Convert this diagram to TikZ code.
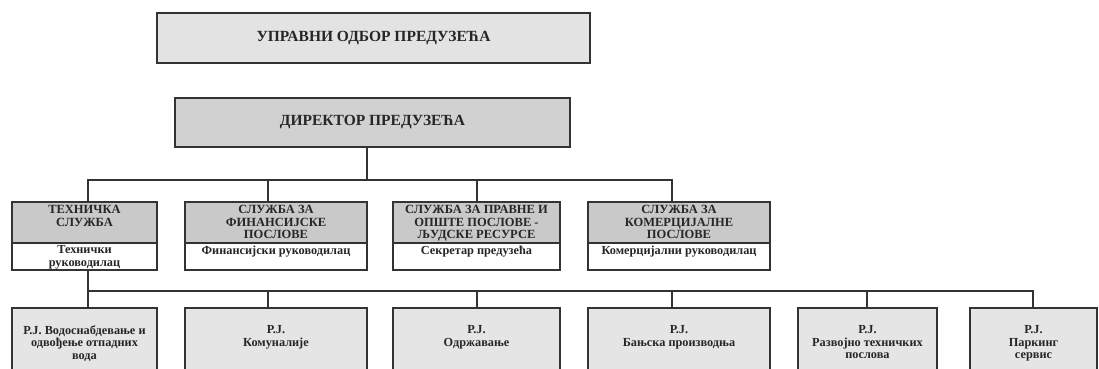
\documentclass[tikz,border=0pt]{standalone}
\usepackage{fontspec}
\setmainfont{Liberation Serif}
\begin{document}
\begin{tikzpicture}[x=1pt,y=-1pt,
  box/.style={draw=black!80, line width=1.8pt, rectangle, inner sep=0pt, outer sep=0pt, anchor=north west},
  ttl/.style={font=\fontsize{15.5}{17}\selectfont\bfseries, text=black!85, inner sep=0pt},
  captxt/.style={font=\fontsize{12.5}{12.2}\selectfont\bfseries, text=black!85, inner sep=0pt, align=center, anchor=north},
  txt/.style={font=\fontsize{12.3}{12.8}\selectfont\bfseries, text=black!85, inner sep=0pt, align=center, anchor=north},
  wire/.style={draw=black!80, line width=1.8pt}
]
\useasboundingbox (0,0) rectangle (1099,369);
% top
\node[box, fill=black!11, minimum width=433pt, minimum height=50pt] (ub) at (157,13) {};
\node[ttl] (ubt) at (ub.center) {УПРАВНИ ОДБОР ПРЕДУЗЕЋА};
\node[box, fill=black!18, minimum width=395pt, minimum height=49pt] (dir) at (175,98) {};
\node[ttl] (dirt) at (dir.center) {ДИРЕКТОР ПРЕДУЗЕЋА};
% departments
\node[box, fill=black!21, minimum width=145pt, minimum height=41pt] (d1) at (12,202) {};
\node[box, fill=white, minimum width=145pt, minimum height=27pt] (d1b) at (12,243) {};
\node[box, fill=black!21, minimum width=182pt, minimum height=41pt] (d2) at (185,202) {};
\node[box, fill=white, minimum width=182pt, minimum height=27pt] (d2b) at (185,243) {};
\node[box, fill=black!21, minimum width=167pt, minimum height=41pt] (d3) at (393,202) {};
\node[box, fill=white, minimum width=167pt, minimum height=27pt] (d3b) at (393,243) {};
\node[box, fill=black!21, minimum width=182pt, minimum height=41pt] (d4) at (588,202) {};
\node[box, fill=white, minimum width=182pt, minimum height=27pt] (d4b) at (588,243) {};
\node[captxt] (d1t) at ([yshift=-3.5pt]d1.north) {ТЕХНИЧКА\\СЛУЖБА};
\node[captxt] (d2t) at ([yshift=-3.5pt]d2.north) {СЛУЖБА ЗА\\ФИНАНСИЈСКЕ\\ПОСЛОВЕ};
\node[captxt] (d3t) at ([yshift=-3.5pt]d3.north) {СЛУЖБА ЗА ПРАВНЕ И\\ОПШТЕ ПОСЛОВЕ -\\ЉУДСКЕ РЕСУРСЕ};
\node[captxt] (d4t) at ([yshift=-3.5pt]d4.north) {СЛУЖБА ЗА\\КОМЕРЦИЈАЛНЕ\\ПОСЛОВЕ};
\node[txt] (d1bt) at ([yshift=-2.5pt]d1b.north) {Технички\\руководилац};
\node[txt] (d2bt) at ([yshift=-2.5pt]d2b.north) {Финансијски руководилац};
\node[txt] (d3bt) at ([yshift=-2.5pt]d3b.north) {Секретар предузећа};
\node[txt] (d4bt) at ([yshift=-2.5pt]d4b.north) {Комерцијални руководилац};
% units
\node[box, fill=black!10, minimum width=145pt, minimum height=80pt] (u1) at (12,308) {};
\node[box, fill=black!10, minimum width=182pt, minimum height=80pt] (u2) at (185,308) {};
\node[box, fill=black!10, minimum width=167pt, minimum height=80pt] (u3) at (393,308) {};
\node[box, fill=black!10, minimum width=182pt, minimum height=80pt] (u4) at (588,308) {};
\node[box, fill=black!10, minimum width=139pt, minimum height=80pt] (u5) at (798,308) {};
\node[box, fill=black!10, minimum width=127pt, minimum height=80pt] (u6) at (970,308) {};
\node[txt] (u1t) at ([yshift=-17pt]u1.north) {Р.Ј. Водоснабдевање и\\одвођење отпадних\\вода};
\node[txt] (u2t) at ([yshift=-17pt]u2.north) {Р.Ј.\\Комуналије};
\node[txt] (u3t) at ([yshift=-17pt]u3.north) {Р.Ј.\\Одржавање};
\node[txt] (u4t) at ([yshift=-17pt]u4.north) {Р.Ј.\\Бањска производња};
\node[txt] (u5t) at ([yshift=-17pt]u5.north) {Р.Ј.\\Развојно техничких\\послова};
\node[txt] (u6t) at ([yshift=-17pt]u6.north) {Р.Ј.\\Паркинг\\сервис};
% bus coordinates
\coordinate (bd) at (367,180);
\coordinate (ba1) at (88,180);
\coordinate (ba2) at (268,180);
\coordinate (ba3) at (477,180);
\coordinate (ba4) at (672,180);
\coordinate (bb1) at (88,291);
\coordinate (bb2) at (268,291);
\coordinate (bb3) at (477,291);
\coordinate (bb4) at (672,291);
\coordinate (bb5) at (867,291);
\coordinate (bb6) at (1033,291);
% connectors
\draw[wire] (bd |- dir.south) -- (bd);
\draw[wire] (ba1 |- d1.north) -- (ba1) -- (ba4) -- (ba4 |- d4.north);
\draw[wire] (ba2) -- (ba2 |- d2.north);
\draw[wire] (ba3) -- (ba3 |- d3.north);
\draw[wire] (bb1 |- d1b.south) -- (bb1 |- u1.north);
\draw[wire] (bb1) -- (bb6) -- (bb6 |- u6.north);
\draw[wire] (bb2) -- (bb2 |- u2.north);
\draw[wire] (bb3) -- (bb3 |- u3.north);
\draw[wire] (bb4) -- (bb4 |- u4.north);
\draw[wire] (bb5) -- (bb5 |- u5.north);
\end{tikzpicture}
\end{document}
